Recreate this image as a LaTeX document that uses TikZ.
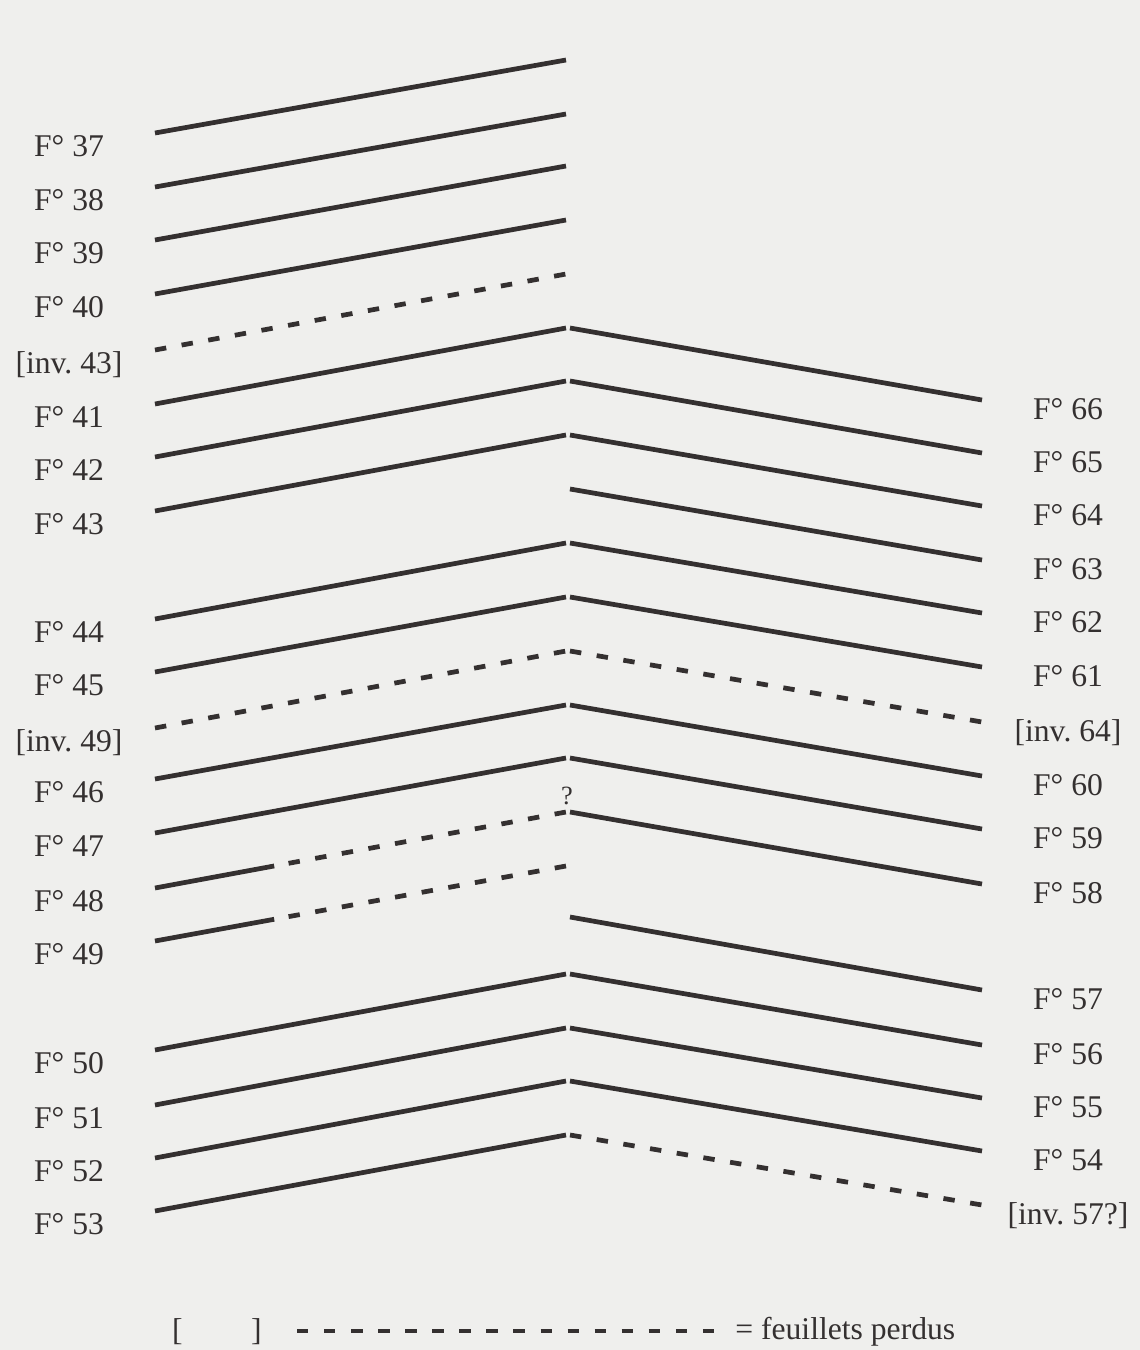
\documentclass[tikz,border=0pt]{standalone}
\usepackage{fontspec}
\setmainfont{Liberation Serif}
\usepackage{xcolor}
\usepackage{tikz}
\usetikzlibrary{positioning,calc}
\frenchspacing

\definecolor{paper}{RGB}{239,239,237}
\definecolor{ink}{RGB}{52,48,48}

\begin{document}
\begin{tikzpicture}[x=0.02cm, y=-0.02cm,
    leaf/.style={draw=ink, line width=2.7pt},
    lost/.style={leaf, dash pattern=on 6.5pt off 8.9pt},
    split/.style={},
    folio/.style={text=ink, font=\fontsize{18}{20}\selectfont, inner sep=0pt, anchor=base}]

% Page
\useasboundingbox (0,0) rectangle (1140,1350);
\fill[paper] (0,0) rectangle (1140,1350);

% Left-hand leaves
\foreach \i/\ly/\ry/\lab/\kind in {1/133/60/{F° 37}/leaf, 2/187/114/{F° 38}/leaf,
    3/240/166/{F° 39}/leaf, 4/294/220/{F° 40}/leaf, 5/350/274/{[inv. 43]}/lost,
    6/404/328/{F° 41}/leaf, 7/457/381/{F° 42}/leaf, 8/511/435/{F° 43}/leaf,
    9/619/543/{F° 44}/leaf, 10/672/597/{F° 45}/leaf, 11/728/651/{[inv. 49]}/lost,
    12/779/705/{F° 46}/leaf, 13/833/758/{F° 47}/leaf, 14/888/812/{F° 48}/split,
    15/941/866/{F° 49}/split, 16/1050/974/{F° 50}/leaf, 17/1105/1028/{F° 51}/leaf,
    18/1158/1081/{F° 52}/leaf, 19/1211/1135/{F° 53}/leaf} {
    \coordinate (l\i a) at (155,\ly);
    \coordinate (l\i b) at (566,\ry);
    \path[\kind] (l\i a) -- (l\i b);
    \node[folio] (fl\i) at (69,\ly+23) {\lab};
}

% Half-lost leaves
\foreach \i in {14,15} {
    \draw[leaf] (l\i a) -- ($(l\i a)!0.29!(l\i b)$);
    \draw[lost] ($(l\i a)!0.325!(l\i b)$) -- (l\i b);
}

% Right-hand leaves
\foreach \i/\ly/\ry/\lab/\kind in {1/328/400/{F° 66}/leaf, 2/381/453/{F° 65}/leaf,
    3/435/506/{F° 64}/leaf, 4/489/560/{F° 63}/leaf, 5/543/613/{F° 62}/leaf,
    6/597/667/{F° 61}/leaf, 7/651/722/{[inv. 64]}/lost, 8/705/776/{F° 60}/leaf,
    9/758/829/{F° 59}/leaf, 10/812/884/{F° 58}/leaf, 11/917/990/{F° 57}/leaf,
    12/974/1045/{F° 56}/leaf, 13/1028/1098/{F° 55}/leaf, 14/1081/1151/{F° 54}/leaf,
    15/1135/1205/{[inv. 57?]}/lost} {
    \coordinate (r\i a) at (570,\ly);
    \coordinate (r\i b) at (982,\ry);
    \path[\kind] (r\i a) -- (r\i b);
    \node[folio] (fr\i) at (1068,\ry+19) {\lab};
}

% Doubtful fold
\node[text=ink, font=\fontsize{15}{16}\selectfont, inner sep=0pt] (qm) at (567,796) {?};

% Legend
\node[folio] (brk) at (217,1340) {[\hspace{39pt}]};
\coordinate (k1) at (297,1331);
\coordinate (k2) at (714,1331);
\draw[lost] (k1) -- (k2);
\node[folio, anchor=base west] (key) at (735,1339) {= feuillets perdus};

\end{tikzpicture}
\end{document}
